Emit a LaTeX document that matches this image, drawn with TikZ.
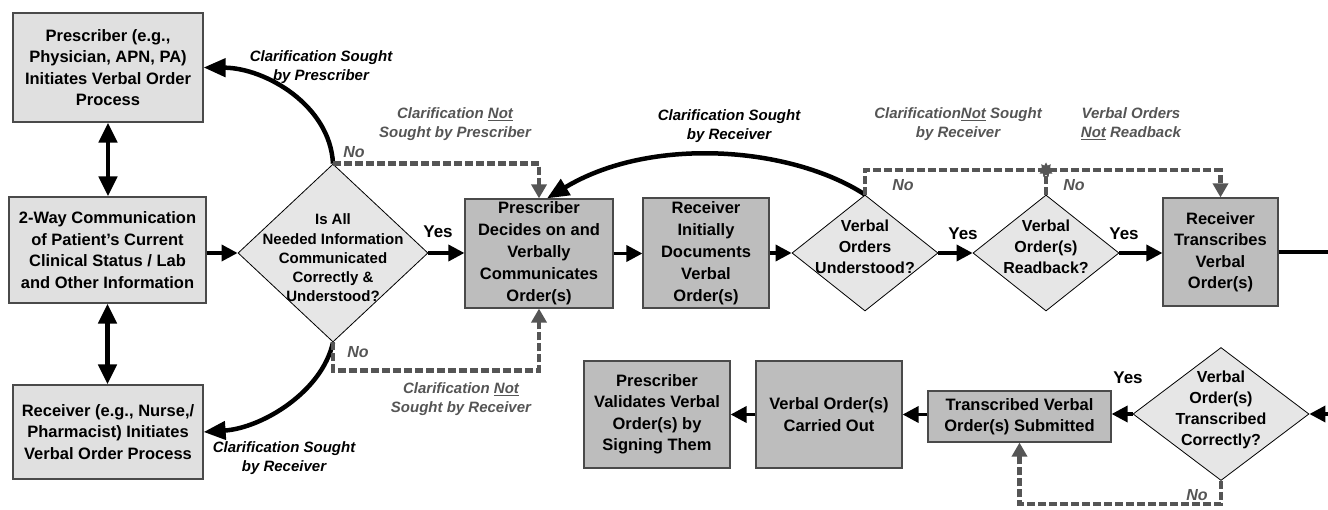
\documentclass[tikz,border=0pt]{standalone}
\usepackage{fontspec}
\setmainfont{Liberation Sans}
\usetikzlibrary{arrows.meta,shapes.geometric}
\definecolor{lightfill}{HTML}{E0E0E0}
\definecolor{diafill}{HTML}{E6E6E6}
\definecolor{darkfill}{HTML}{BDBDBD}
\definecolor{dgray}{HTML}{555555}
\definecolor{bordergray}{HTML}{4A4A4A}
\tikzset{
  boxbase/.style={draw=bordergray, line width=1.2pt, align=center, inner sep=0pt,
    font=\bfseries\fontsize{16.5}{21.5}\selectfont},
  lbox/.style={boxbase, fill=lightfill},
  dbox/.style={boxbase, fill=darkfill},
  dia/.style={diamond, draw=black, line width=0.8pt, fill=diafill, inner sep=0pt},
  dtext/.style={align=center, inner sep=0pt, font=\bfseries\fontsize{16}{21}\selectfont},
  arr/.style={line width=3.5pt, -{Triangle[length=16pt,width=16pt]}},
  dblarr/.style={line width=4.5pt, {Triangle[length=20pt,width=18pt]}-{Triangle[length=20pt,width=18pt]}},
  carr/.style={line width=4.5pt, -{Triangle[length=22pt,width=18pt]}},
  dsh/.style={draw=dgray, line width=4.5pt, dash pattern=on 8pt off 3pt},
  darr/.style={dsh, -{Triangle[length=14pt,width=15pt]}},
  lblk/.style={align=center, inner sep=0pt, font=\bfseries\itshape\fontsize{15}{19}\selectfont},
  lgry/.style={lblk, text=dgray},
  yeslbl/.style={inner sep=0pt, font=\bfseries\fontsize{17}{20}\selectfont},
  nolbl/.style={inner sep=0pt, text=dgray, font=\bfseries\itshape\fontsize{16}{20}\selectfont},
}
\begin{document}
\begin{tikzpicture}[x=1pt,y=-1pt]
\fill[white] (0,0) rectangle (1328,510);
\useasboundingbox (0,0) rectangle (1328,510);

% left column
\node[lbox, minimum width=190pt, minimum height=109pt] (p1) at (108,67.5)
  {Prescriber (e.g.,\\Physician, APN, PA)\\Initiates Verbal Order\\Process};
\node[lbox, minimum width=197pt, minimum height=106pt] (tw) at (107.5,250)
  {2-Way Communication\\of Patient’s Current\\Clinical Status / Lab\\and Other Information};
\node[lbox, minimum width=190pt, minimum height=94pt] (rc) at (108,432)
  {Receiver (e.g., Nurse,/\\Pharmacist) Initiates\\Verbal Order Process};

% decision 1
\node[dia, minimum width=190pt, minimum height=178pt] (d1) at (333,253) {};
\node[dtext, font=\bfseries\fontsize{15}{19.2}\selectfont] (d1t) at (333,258)
  {Is All\\Needed Information\\Communicated\\Correctly \&\\Understood?};

% top row
\node[dbox, minimum width=148pt, minimum height=109pt, font=\bfseries\fontsize{16.5}{22}\selectfont] (pd) at (539,253.5)
  {Prescriber\\Decides on and\\Verbally\\Communicates\\Order(s)};
\node[dbox, minimum width=126pt, minimum height=110pt, font=\bfseries\fontsize{16.5}{22}\selectfont] (rd) at (706,253)
  {Receiver\\Initially\\Documents\\Verbal\\Order(s)};
\node[dia, minimum width=146pt, minimum height=116pt] (d2) at (865,253) {};
\node[dtext] (d2t) at (865,247) {Verbal\\Orders\\Understood?};
\node[dia, minimum width=146pt, minimum height=116pt] (d3) at (1046,253) {};
\node[dtext] (d3t) at (1046,247) {Verbal\\Order(s)\\Readback?};
\node[dbox, minimum width=115pt, minimum height=108pt] (rt) at (1220.5,252)
  {Receiver\\Transcribes\\Verbal\\Order(s)};
\coordinate (edgeA) at (1328,252);

% bottom row
\node[dia, minimum width=176pt, minimum height=133pt] (d4) at (1221,414) {};
\node[dtext] (d4t) at (1221,410) {Verbal\\Order(s)\\Transcribed\\Correctly?};
\coordinate (edgeB) at (1328,414);
\node[dbox, minimum width=183pt, minimum height=51pt] (ts) at (1019.5,416.5)
  {Transcribed Verbal\\Order(s) Submitted};
\node[dbox, minimum width=146pt, minimum height=107pt] (co) at (829,414.5)
  {Verbal Order(s)\\Carried Out};
\node[dbox, minimum width=146pt, minimum height=107pt] (pv) at (657,414.5)
  {Prescriber\\Validates Verbal\\Order(s) by\\Signing Them};

% solid connectors
\draw[dblarr] (p1.south) -- (p1.south |- tw.north);
\draw[dblarr] (tw.south) -- (tw.south |- rc.north);
\draw[arr] (tw.east |- d1.west) -- (d1.west);
\draw[arr] (d1.east) -- (d1.east -| pd.west);
\draw[arr] (pd.east) -- (pd.east -| rd.west);
\draw[arr] (rd.east) -- (d2.west);
\draw[arr] (d2.east) -- (d3.west);
\draw[arr] (d3.east) -- (d3.east -| rt.west);
\draw[line width=4.5pt] (rt.east) -- (edgeA);
\draw[arr] (edgeB) -- (d4.east);
\draw[arr] (d4.west) -- (d4.west -| ts.east);
\draw[arr] (ts.west |- co.east) -- (co.east);
\draw[arr] (co.west) -- (pv.east);

% curved clarification arrows
\draw[carr] (d1.north) .. controls (330,105) and (265,68) .. (p1.east);
\draw[carr] (d1.south) .. controls (322,392) and (262,428) .. (rc.east);
\draw[carr] (d2.north) .. controls (790,146) and (650,136) .. ([xshift=8pt]pd.north);

% dashed connectors
\draw[darr] (d1.north) -- (pd.north |- d1.north) -- (pd.north);
\draw[darr] (d1.south) -- ++(0,28) -| (pd.south);
\coordinate (jn) at (1046,170);
\draw[darr] (d2.north) -- (d2.north |- jn) -| (rt.north);
\draw[dsh] (d3.north) -- (jn);
\node[star, star points=9, star point ratio=1.6, fill=dgray, minimum size=15pt, inner sep=0pt] (blob) at (jn) {};
\draw[darr] (d4.south) -- ++(0,23) -| (ts.south);

% labels
\node[lblk] (l1) at (321,67) {Clarification Sought\\by Prescriber};
\node[lgry] (l2) at (455,124) {Clarification \underline{Not}\\Sought by Prescriber};
\node[nolbl] (n1) at (354,152) {No};
\node[yeslbl] (y1) at (438,232) {Yes};
\node[nolbl] (n2) at (358,352) {No};
\node[lgry] (l3) at (461,399) {Clarification \underline{Not}\\Sought by Receiver};
\node[lblk] (l4) at (284,458) {Clarification Sought\\by Receiver};
\node[lblk] (l5) at (729,126) {Clarification Sought\\by Receiver};
\node[lgry] (l6) at (958,124) {Clarification\underline{Not} Sought\\by Receiver};
\node[lgry] (l7) at (1131,124) {Verbal Orders\\\underline{Not} Readback};
\node[nolbl] (n3) at (903,185) {No};
\node[nolbl] (n4) at (1074,185) {No};
\node[yeslbl] (y2) at (963,234) {Yes};
\node[yeslbl] (y3) at (1124,234) {Yes};
\node[yeslbl] (y4) at (1128,378) {Yes};
\node[nolbl] (n5) at (1197,495) {No};
\end{tikzpicture}
\end{document}
